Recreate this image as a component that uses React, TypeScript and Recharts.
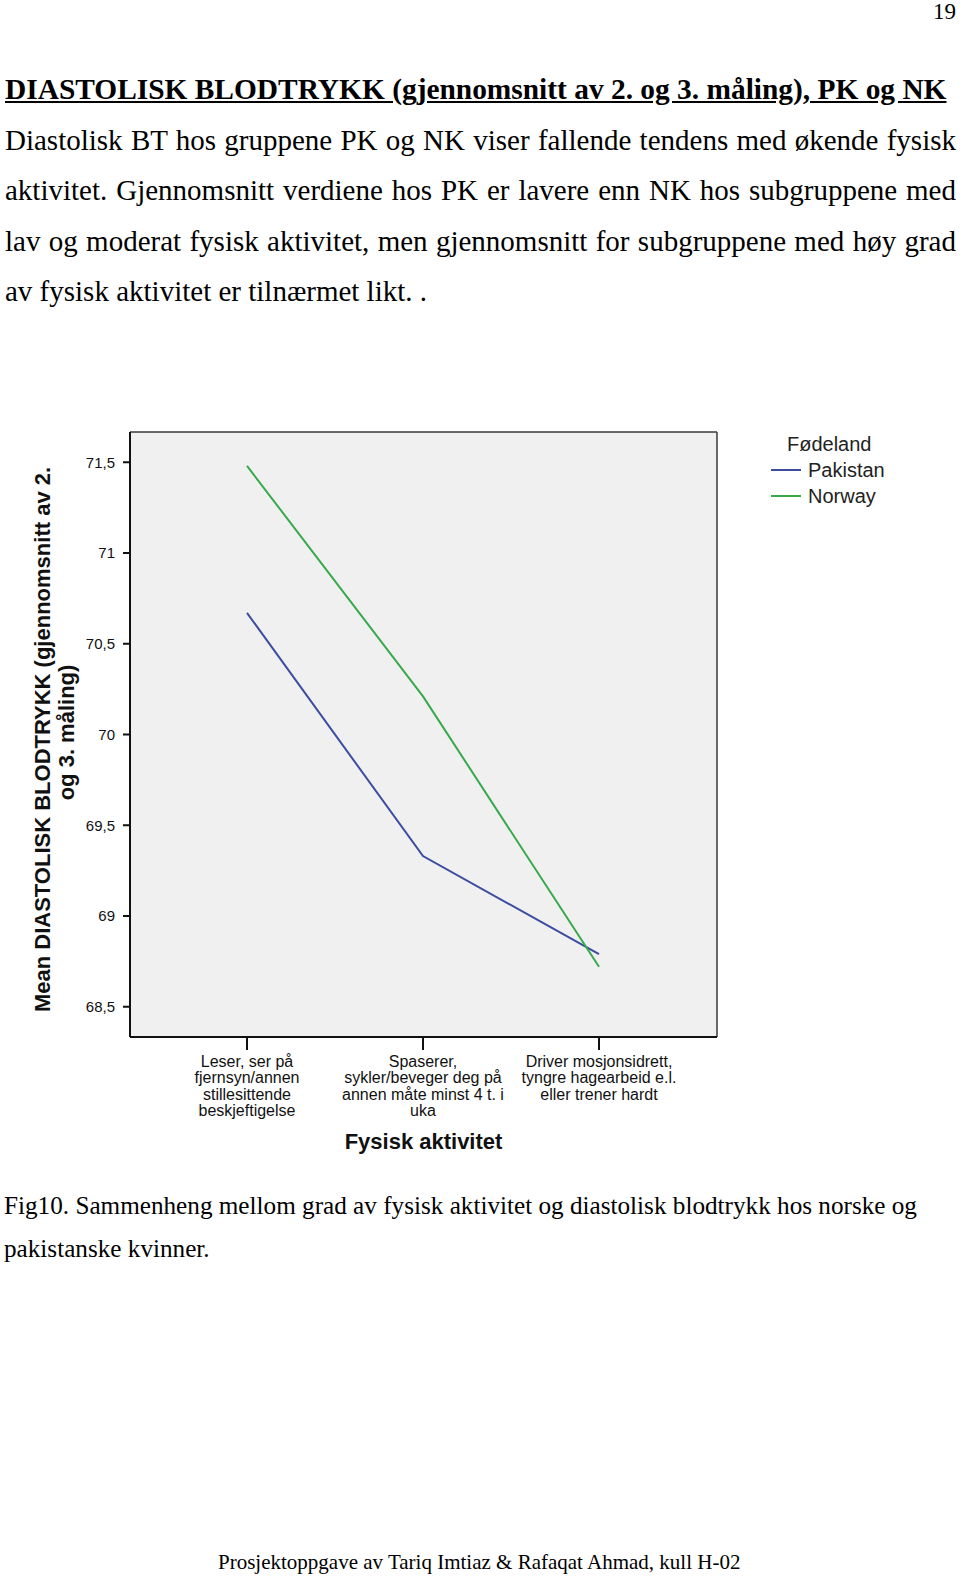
import React from "react"
import { LineChart, Line, XAxis, YAxis, CartesianGrid, Legend } from "recharts"

const SANS = "'Liberation Sans', Arial, sans-serif"
const SERIF = "'Liberation Serif', 'Times New Roman', serif"

// activity levels (x categories)
const categories = [
  "Leser, ser på fjernsyn/annen stillesittende beskjeftigelse",
  "Spaserer, sykler/beveger deg på annen måte minst 4 t. i uka",
  "Driver mosjonsidrett, tyngre hagearbeid e.l. eller trener hardt",
]
const categoryLines = [
  ["Leser, ser på", "fjernsyn/annen", "stillesittende", "beskjeftigelse"],
  ["Spaserer,", "sykler/beveger deg på", "annen måte minst 4 t. i", "uka"],
  ["Driver mosjonsidrett,", "tyngre hagearbeid e.l.", "eller trener hardt"],
]

// mean diastolic pressure per group
const pakistan = [70.67, 69.33, 68.79]
const norway = [71.48, 70.21, 68.72]
const seriesOrder = ["Pakistan", "Norway"]

const yTicks = [68.5, 69, 69.5, 70, 70.5, 71, 71.5]
const yDomain = [68.3333, 71.6667]

const BLUE = "#3c4ca0"
const GREEN = "#38a94a"

const data = categories.map((c, i) => ({
  cat: c,
  Pakistan: pakistan[i],
  Norway: norway[i],
}))

const paragraph = [
  "Diastolisk BT hos gruppene PK og NK viser fallende tendens med økende fysisk",
  "aktivitet. Gjennomsnitt verdiene hos PK er lavere enn NK hos subgruppene med",
  "lav og moderat fysisk aktivitet, men gjennomsnitt for subgruppene med høy grad",
  "av fysisk aktivitet er tilnærmet likt. .",
]

function ActivityTick(props: any) {
  const { x, y, payload } = props
  const idx = categories.indexOf(payload.value)
  const lines = idx >= 0 ? categoryLines[idx] : [String(payload.value)]
  return (
    <text x={x} y={y} textAnchor="middle" fontSize={16} fontFamily={SANS} fill="#111">
      {lines.map((l, i) => (
        <tspan key={i} x={x} dy={i === 0 ? 15 : 16.4}>{l}</tspan>
      ))}
    </text>
  )
}

function YTitle(props: any) {
  const vb = props.viewBox || { x: 80, y: 432, width: 50, height: 605 }
  const cy = vb.y + vb.height / 2
  const x1 = vb.x - 30
  const x2 = vb.x - 6
  return (
    <g fontFamily={SANS} fontWeight="bold" fontSize={22} fill="#111">
      <text x={x1} y={cy + 5} textAnchor="middle" transform={`rotate(-90, ${x1}, ${cy + 5})`}>
        Mean DIASTOLISK BLODTRYKK (gjennomsnitt av 2.
      </text>
      <text x={x2} y={cy - 2} textAnchor="middle" transform={`rotate(-90, ${x2}, ${cy - 2})`}>
        og 3. måling)
      </text>
    </g>
  )
}

function XTitle(props: any) {
  const vb = props.viewBox || { x: 130, y: 1037, width: 587, height: 110 }
  return (
    <text x={vb.x + vb.width / 2} y={vb.y + 112} textAnchor="middle" fontFamily={SANS}
      fontWeight="bold" fontSize={22} fill="#111">
      Fysisk aktivitet
    </text>
  )
}

function FodelandLegend({ payload }: any) {
  const items = [...(payload || [])].sort(
    (a: any, b: any) => seriesOrder.indexOf(a.value) - seriesOrder.indexOf(b.value)
  )
  return (
    <div style={{ fontFamily: SANS, fontSize: 20, lineHeight: "26px", color: "#222" }}>
      <div style={{ paddingLeft: 16 }}>Fødeland</div>
      {items.map((e: any) => (
        <div key={e.value} style={{ display: "flex", alignItems: "center" }}>
          <span style={{ display: "inline-block", width: 30, height: 0, borderTop: `2px solid ${e.color}`, marginRight: 7 }} />
          <span>{e.value}</span>
        </div>
      ))}
    </div>
  )
}

export default function App() {
  return (
    <div style={{ position: "absolute", left: 0, top: 0, width: 960, height: 1577, background: "#fff", overflow: "hidden" }}>
      <div style={{ position: "absolute", right: 4, top: 0, fontFamily: SERIF, fontSize: 23, lineHeight: "23px" }}>19</div>
      <div style={{ position: "absolute", left: 5, top: 75, fontFamily: SERIF, fontSize: 29.4, lineHeight: "29px", fontWeight: "bold", textDecoration: "underline", whiteSpace: "nowrap" }}>
        DIASTOLISK BLODTRYKK (gjennomsnitt av 2. og 3. måling), PK og NK
      </div>
      {paragraph.map((line, i) => (
        <div key={i} style={{
          position: "absolute", left: 5, top: 125.5 + i * 50.6, width: 951,
          fontFamily: SERIF, fontSize: 29, lineHeight: "29px", whiteSpace: "nowrap",
          textAlign: "justify", textAlignLast: i < paragraph.length - 1 ? "justify" : "left",
        }}>{line}</div>
      ))}

      <div style={{ position: "absolute", left: 0, top: 0 }}>
        <LineChart width={960} height={1200} data={data} margin={{ top: 432, right: 243, left: 80, bottom: 53 }}>
          <CartesianGrid
            fill="#f0f0f0"
            stroke="#3a3a3a"
            strokeWidth={1.5}
            horizontalCoordinatesGenerator={({ offset }: any) => [offset.top, offset.top + offset.height]}
            verticalCoordinatesGenerator={({ offset }: any) => [offset.left, offset.left + offset.width]}
          />
          <XAxis
            dataKey="cat"
            height={110}
            padding={{ left: 117, right: 118 }}
            tick={<ActivityTick />}
            tickSize={13}
            tickMargin={2}
            tickLine={{ stroke: "#111", strokeWidth: 2 }}
            axisLine={{ stroke: "#111", strokeWidth: 2 }}
            interval={0}
            label={<XTitle />}
          />
          <YAxis
            type="number"
            domain={yDomain}
            ticks={yTicks}
            width={50}
            tickSize={7}
            tickMargin={8}
            tick={{ fontSize: 15, fontFamily: SANS, fill: "#111" }}
            tickLine={{ stroke: "#111", strokeWidth: 2 }}
            axisLine={{ stroke: "#111", strokeWidth: 2 }}
            tickFormatter={(v: number) => String(v).replace(".", ",")}
            allowDataOverflow
            label={<YTitle />}
          />
          <Legend
            layout="vertical"
            align="center"
            verticalAlign="middle"
            wrapperStyle={{ left: 771, top: 431, width: 160, height: 80 }}
            content={<FodelandLegend />}
          />
          <Line type="linear" dataKey="Pakistan" name="Pakistan" stroke={BLUE} strokeWidth={2} dot={false} isAnimationActive={false} />
          <Line type="linear" dataKey="Norway" name="Norway" stroke={GREEN} strokeWidth={2} dot={false} isAnimationActive={false} />
        </LineChart>
      </div>

      <div style={{ position: "absolute", left: 4, top: 1192.5, fontFamily: SERIF, fontSize: 25.2, lineHeight: "43px", whiteSpace: "nowrap" }}>
        <div style={{ height: 43, marginTop: -9 }}>Fig10. Sammenheng mellom grad av fysisk aktivitet og diastolisk blodtrykk hos norske og</div>
        <div style={{ height: 43 }}>pakistanske kvinner.</div>
      </div>
      <div style={{ position: "absolute", left: 218, top: 1551.5, fontFamily: SERIF, fontSize: 21, lineHeight: "21px", whiteSpace: "nowrap" }}>
        Prosjektoppgave av Tariq Imtiaz &amp; Rafaqat Ahmad, kull H-02
      </div>
    </div>
  )
}
